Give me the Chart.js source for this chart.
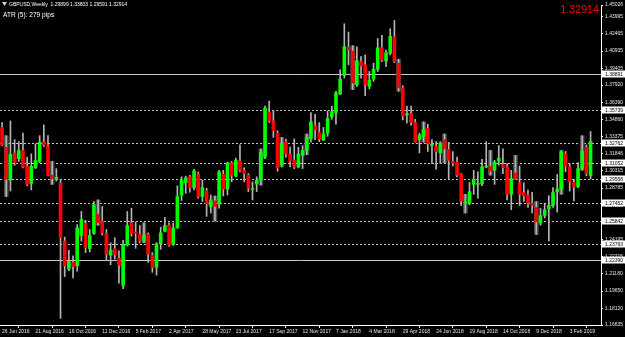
<!DOCTYPE html>
<html lang="en">
<head>
  <meta charset="UTF-8" />
  <title>GBPUSD Weekly</title>
  <script src="https://cdn.jsdelivr.net/npm/chart.js"></script>
  <style>
    body {
      margin: 0;
      background: #000;
    }
    canvas {
      display: block;
      background: #000;
    }
  </style>
</head>
<body>
  <canvas id="priceChart" width="625" height="337"></canvas>

  <script>
    // weekly candles, first bar = week of 26 Jun 2016
    const weekOpen = [
      1.3416, 1.3241, 1.2949, 1.3188, 1.3139, 1.3212, 1.3071, 1.2920, 1.3060, 1.3115,
      1.3290, 1.3255, 1.2993, 1.2955, 1.2920, 1.2408, 1.2160, 1.2218, 1.2189, 1.2458,
      1.2563, 1.2341, 1.2476, 1.2648, 1.2584, 1.2476, 1.2283, 1.2344, 1.2256, 1.2014,
      1.2373, 1.2569, 1.2484, 1.2467, 1.2408, 1.2467, 1.2283, 1.2175, 1.2385, 1.2496,
      1.2549, 1.2379, 1.2525, 1.2817, 1.2925, 1.2978, 1.2882, 1.3001, 1.2803, 1.2852,
      1.2715, 1.2765, 1.2736, 1.3001, 1.2870, 1.3101, 1.2984, 1.3118, 1.3036, 1.2993,
      1.2866, 1.2914, 1.2949, 1.3153, 1.3548, 1.3475, 1.3366, 1.3086, 1.3290, 1.3177,
      1.3124, 1.3066, 1.3168, 1.3212, 1.3314, 1.3431, 1.3372, 1.3305, 1.3366, 1.3512,
      1.3548, 1.3714, 1.3878, 1.4126, 1.4094, 1.3796, 1.4000, 1.3971, 1.3781, 1.3845,
      1.3933, 1.4123, 1.4006, 1.4073, 1.4219, 1.3986, 1.3767, 1.3527, 1.3539, 1.3460,
      1.3308, 1.3337, 1.3407, 1.3255, 1.3249, 1.3191, 1.3308, 1.3220, 1.3115, 1.3109,
      1.3001, 1.2744, 1.2744, 1.2911, 1.2911, 1.2916, 1.3065, 1.3071, 1.3036, 1.3118,
      1.3086, 1.3066, 1.2823, 1.3013, 1.2925, 1.2838, 1.2817, 1.2744, 1.2706, 1.2569,
      1.2636, 1.2695, 1.2721, 1.2846, 1.2870, 1.3182, 1.3066, 1.2928, 1.2890, 1.3051,
      1.3241, 1.29899
    ];
    const weekHigh = [
      1.3460, 1.3343, 1.3474, 1.3308, 1.3290, 1.3366, 1.3153, 1.3182, 1.3270, 1.3343,
      1.3439, 1.3343, 1.3115, 1.3051, 1.2957, 1.2443, 1.2327, 1.2277, 1.2554, 1.2671,
      1.2592, 1.2511, 1.2759, 1.2773, 1.2715, 1.2511, 1.2394, 1.2438, 1.2321, 1.2414,
      1.2671, 1.2700, 1.2578, 1.2546, 1.2569, 1.2481, 1.2306, 1.2394, 1.2531, 1.2619,
      1.2569, 1.2569, 1.2899, 1.2978, 1.2984, 1.2992, 1.3045, 1.3022, 1.2949, 1.2876,
      1.2817, 1.2808, 1.3036, 1.3036, 1.3109, 1.3115, 1.3144, 1.3261, 1.3057, 1.3007,
      1.2934, 1.2978, 1.3226, 1.3606, 1.3650, 1.3562, 1.3387, 1.3328, 1.3314, 1.3241,
      1.3314, 1.3241, 1.3255, 1.3358, 1.3548, 1.3533, 1.3460, 1.3416, 1.3562, 1.3606,
      1.3737, 1.3927, 1.4336, 1.4263, 1.4141, 1.4132, 1.4044, 1.4059, 1.3913, 1.3986,
      1.4205, 1.4234, 1.4102, 1.4292, 1.4365, 1.4021, 1.3787, 1.3606, 1.3606, 1.3489,
      1.3366, 1.3466, 1.3445, 1.3308, 1.3290, 1.3290, 1.3358, 1.3285, 1.3203, 1.3153,
      1.3007, 1.2823, 1.2928, 1.3036, 1.3022, 1.3133, 1.3290, 1.3212, 1.3124, 1.3255,
      1.3226, 1.3095, 1.3036, 1.3168, 1.3074, 1.2925, 1.2861, 1.2841, 1.2759, 1.2700,
      1.2735, 1.2811, 1.2882, 1.2998, 1.3212, 1.3203, 1.3095, 1.2955, 1.3104, 1.3343,
      1.3261, 1.33803
    ];
    const weekLow = [
      1.3255, 1.2803, 1.2852, 1.3080, 1.3115, 1.3057, 1.2899, 1.2861, 1.3051, 1.3104,
      1.3247, 1.2987, 1.2911, 1.2940, 1.1722, 1.2093, 1.2145, 1.2081, 1.2140, 1.2408,
      1.2306, 1.2312, 1.2467, 1.2549, 1.2461, 1.2233, 1.2198, 1.2248, 1.2034, 1.1985,
      1.2364, 1.2452, 1.2344, 1.2394, 1.2394, 1.2218, 1.2131, 1.2107, 1.2335, 1.2490,
      1.2364, 1.2370, 1.2519, 1.2768, 1.2832, 1.2841, 1.2861, 1.2788, 1.2759, 1.2627,
      1.2657, 1.2584, 1.2700, 1.2808, 1.2817, 1.2934, 1.2978, 1.3022, 1.2934, 1.2847,
      1.2773, 1.2847, 1.2905, 1.3139, 1.3460, 1.3328, 1.3028, 1.3066, 1.3153, 1.3066,
      1.3051, 1.3057, 1.3051, 1.3174, 1.3285, 1.3308, 1.3290, 1.3299, 1.3337, 1.3489,
      1.3445, 1.3708, 1.3854, 1.3971, 1.3752, 1.3781, 1.3854, 1.3699, 1.3758, 1.3825,
      1.3913, 1.4000, 1.3956, 1.4059, 1.3991, 1.3737, 1.3483, 1.3454, 1.3436, 1.3285,
      1.3191, 1.3285, 1.3203, 1.3095, 1.3045, 1.3095, 1.3103, 1.2957, 1.3074, 1.2978,
      1.2724, 1.2657, 1.2730, 1.2823, 1.2788, 1.2899, 1.3057, 1.2993, 1.2911, 1.3080,
      1.3007, 1.2773, 1.2686, 1.2958, 1.2724, 1.2759, 1.2706, 1.2657, 1.2467, 1.2549,
      1.2613, 1.2408, 1.2706, 1.2665, 1.2823, 1.3022, 1.2852, 1.2765, 1.2882, 1.3036,
      1.2987, 1.29591
    ];
    const weekClose = [
      1.3261, 1.2957, 1.3177, 1.3101, 1.3212, 1.3066, 1.2911, 1.3071, 1.3124, 1.3285,
      1.3261, 1.2993, 1.2963, 1.2972, 1.2438, 1.2189, 1.2227, 1.2183, 1.2525, 1.2598,
      1.2350, 1.2458, 1.2730, 1.2569, 1.2481, 1.2292, 1.2327, 1.2286, 1.2195, 1.2373,
      1.2546, 1.2476, 1.2478, 1.2408, 1.2461, 1.2292, 1.2175, 1.2385, 1.2481, 1.2546,
      1.2373, 1.2525, 1.2803, 1.2949, 1.2969, 1.2882, 1.3031, 1.2803, 1.2882, 1.2738,
      1.2773, 1.2715, 1.3022, 1.2870, 1.3101, 1.2993, 1.3124, 1.3036, 1.3007, 1.2876,
      1.2870, 1.2949, 1.3197, 1.3586, 1.3475, 1.3387, 1.3057, 1.3276, 1.3182, 1.3118,
      1.3066, 1.3182, 1.3212, 1.3328, 1.3466, 1.3396, 1.3314, 1.3358, 1.3495, 1.3556,
      1.3723, 1.3845, 1.4132, 1.4108, 1.3810, 1.4009, 1.3962, 1.3796, 1.3834, 1.3933,
      1.4123, 1.4015, 1.4079, 1.4225, 1.4000, 1.3767, 1.3518, 1.3539, 1.3460, 1.3290,
      1.3349, 1.3396, 1.3270, 1.3267, 1.3203, 1.3279, 1.3226, 1.3124, 1.3098, 1.2993,
      1.2765, 1.2749, 1.2846, 1.2957, 1.2914, 1.3066, 1.3068, 1.3028, 1.3109, 1.3144,
      1.3060, 1.2823, 1.2963, 1.2963, 1.2823, 1.2809, 1.2744, 1.2727, 1.2578, 1.2633,
      1.2686, 1.2724, 1.2838, 1.2870, 1.3197, 1.3071, 1.2934, 1.2887, 1.3051, 1.3206,
      1.3007, 1.32914
    ];

    // bars the terminal shades in dark grey
    const markedWeeks = [1, 12, 23, 34, 51, 62, 67, 73, 84, 95, 101, 106, 111, 117, 123, 128, 134, 139];

    // horizontal levels drawn on the chart
    const solidLevels = [1.38891, 1.22390];
    const dottedLevels = [1.35739, 1.32762, 1.31052, 1.29558, 1.27452, 1.25842, 1.23793];

    const yTickValues = [
      1.45026, 1.43995, 1.42465, 1.40935, 1.39405, 1.37920, 1.36390, 1.34860, 1.33375,
      1.31846, 1.30315, 1.28785, 1.27255, 1.25725, 1.24195, 1.22715, 1.21180, 1.19650,
      1.18120, 1.16635
    ];
    const yMin = 1.16635;
    const yMax = 1.45026;

    const xTickLabels = [
      "26 Jun 2016", "21 Aug 2016", "16 Oct 2016", "11 Dec 2016", "5 Feb 2017", "2 Apr 2017",
      "28 May 2017", "23 Jul 2017", "17 Sep 2017", "12 Nov 2017", "7 Jan 2018", "4 Mar 2018",
      "29 Apr 2018", "24 Jun 2018", "19 Aug 2018", "14 Oct 2018", "9 Dec 2018", "3 Feb 2019"
    ];

    const symbolLine = "GBPUSD,Weekly  1.29899 1.33803 1.29591 1.32914";
    const atrText = "ATR (5): 279 pips";
    const lastPrice = "1.32914";

    // week starting dates, two empty weeks of right margin after the last bar
    const months = ["Jan","Feb","Mar","Apr","May","Jun","Jul","Aug","Sep","Oct","Nov","Dec"];
    const weeks = [];
    for (let i = 0; i < weekOpen.length + 2; i++) {
      const d = new Date(Date.UTC(2016, 5, 26 + 7 * i));
      weeks.push(d.getUTCDate() + " " + months[d.getUTCMonth()] + " " + d.getUTCFullYear());
    }

    const FONT = "'Liberation Sans', Arial, sans-serif";

    const levelsPlugin = {
      id: "levels",
      beforeDatasetsDraw(chart) {
        const { ctx, chartArea, scales } = chart;
        const y = scales.y;
        ctx.save();
        ctx.strokeStyle = "#c8c8c8";
        ctx.lineWidth = 1;
        solidLevels.forEach(v => {
          const py = Math.round(y.getPixelForValue(v)) + 0.5;
          ctx.beginPath();
          ctx.moveTo(chartArea.left, py);
          ctx.lineTo(chartArea.right, py);
          ctx.stroke();
        });
        ctx.setLineDash([2, 2]);
        dottedLevels.forEach(v => {
          const py = Math.round(y.getPixelForValue(v)) + 0.5;
          ctx.beginPath();
          ctx.moveTo(chartArea.left, py);
          ctx.lineTo(chartArea.right, py);
          ctx.stroke();
        });
        ctx.restore();
      },
      afterDraw(chart) {
        const { ctx, chartArea, scales } = chart;
        const y = scales.y;
        ctx.save();
        // boxed level prices on the axis
        ctx.font = "5px " + FONT;
        ctx.textBaseline = "middle";
        solidLevels.concat(dottedLevels).forEach(v => {
          const py = Math.round(y.getPixelForValue(v));
          ctx.fillStyle = "#ffffff";
          ctx.fillRect(chartArea.right + 1, py - 3.5, 24, 7);
          ctx.fillStyle = "#000000";
          ctx.fillText(v.toFixed(5), chartArea.right + 4, py + 0.5);
        });

        // symbol line and indicator text
        ctx.fillStyle = "#d0d0d0";
        ctx.beginPath();
        ctx.moveTo(2, 2);
        ctx.lineTo(7, 2);
        ctx.lineTo(4.5, 6);
        ctx.closePath();
        ctx.fill();
        ctx.fillStyle = "#ffffff";
        ctx.font = "5px " + FONT;
        ctx.textBaseline = "middle";
        ctx.fillText(symbolLine, 9, 4.5);
        ctx.font = "6.6px " + FONT;
        ctx.fillText(atrText, 3, 15.5);

        // current price, top right
        ctx.fillStyle = "#ff0000";
        ctx.font = "10.7px " + FONT;
        ctx.textAlign = "right";
        ctx.textBaseline = "alphabetic";
        ctx.fillText(lastPrice, 599, 13);
        ctx.restore();
      }
    };

    const bodyData = weekOpen.map((o, i) => [o, weekClose[i]]);
    const wickData = weekLow.map((l, i) => [l, weekHigh[i]]);
    const shadeData = weekLow.map((l, i) => markedWeeks.includes(i) ? [l, weekHigh[i]] : null);
    const bodyColors = weekOpen.map((o, i) => weekClose[i] >= o ? "#00ff00" : "#ff0000");

    new Chart(document.getElementById("priceChart"), {
      type: "bar",
      data: {
        labels: weeks,
        datasets: [
          {
            label: "body",
            data: bodyData,
            backgroundColor: bodyColors,
            borderWidth: 0,
            barThickness: 3,
            minBarLength: 1,
            grouped: false,
            order: 1
          },
          {
            label: "wick",
            data: wickData,
            backgroundColor: "#b4b4b4",
            barThickness: 1,
            grouped: false,
            order: 2
          },
          {
            label: "shade",
            data: shadeData,
            backgroundColor: "#4a4a4a",
            barThickness: 4,
            grouped: false,
            order: 3
          }
        ]
      },
      options: {
        responsive: false,
        animation: false,
        layout: { padding: { top: 1, left: 0, right: 0, bottom: 0 } },
        plugins: {
          legend: { display: false },
          tooltip: { enabled: false }
        },
        scales: {
          x: {
            type: "category",
            offset: true,
            grid: { drawOnChartArea: false, tickLength: 3, color: "#ffffff" },
            border: { color: "#ffffff" },
            ticks: {
              autoSkip: false,
              maxRotation: 0,
              align: "start",
              padding: 1,
              color: "#e6e6e6",
              font: { size: 5, family: FONT },
              callback: function(val) {
                const l = this.getLabelForValue(val);
                return xTickLabels.includes(l) ? l : null;
              }
            },
            afterFit(scale) { scale.height = 12; }
          },
          y: {
            position: "right",
            min: yMin,
            max: yMax,
            afterBuildTicks(scale) {
              scale.ticks = yTickValues.map(v => ({ value: v }));
            },
            grid: { drawOnChartArea: false, tickLength: 2, color: "#ffffff" },
            border: { color: "#ffffff" },
            ticks: {
              autoSkip: false,
              padding: 2,
              color: "#e6e6e6",
              font: { size: 5, family: FONT },
              callback: v => v.toFixed(5)
            },
            afterFit(scale) { scale.width = 24; }
          }
        }
      },
      plugins: [levelsPlugin]
    });
  </script>
</body>
</html>
